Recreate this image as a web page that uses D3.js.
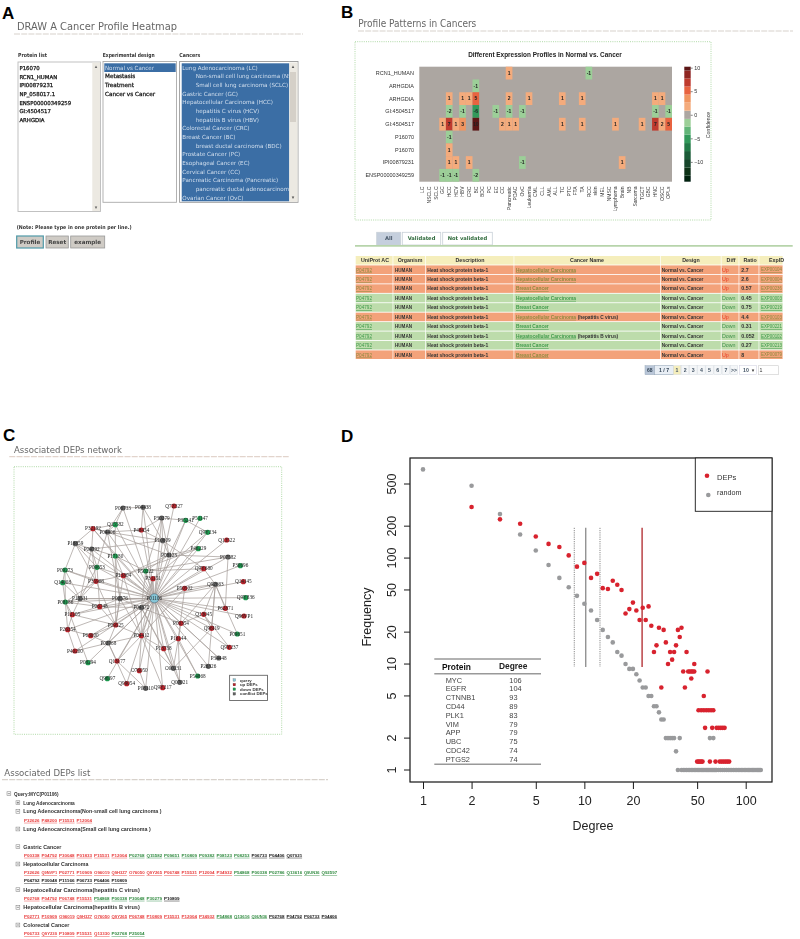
<!DOCTYPE html>
<html><head><meta charset="utf-8">
<script src="https://cdn.jsdelivr.net/npm/d3@7/dist/d3.min.js"></script>
<style>html,body{margin:0;padding:0;background:#fff}svg{display:block}</style></head>
<body><svg id="fig" width="800" height="939" viewBox="0 0 800 939"></svg>
<script>
// ---------- Panel A ----------
const proteinList=["P16070","RCN1_HUMAN","IPI00879231","NP_058017.1","ENSP00000349259","GI:4504517","ARHGDIA"];
const designs=["Normal vs Cancer","Metastasis","Treatment","Cancer vs Cancer"];
const cancerOptions=[["Lung Adenocarcinoma (LC)",0],["Non-small cell lung carcinoma (NSCLC)",1],["Small cell lung carcinoma (SCLC)",1],["Gastric Cancer (GC)",0],["Hepatocellular Carcinoma (HCC)",0],["hepatitis C virus (HCV)",1],["hepatitis B virus (HBV)",1],["Colorectal Cancer (CRC)",0],["Breast Cancer (BC)",0],["breast ductal carcinoma (BDC)",1],["Prostate Cancer (PC)",0],["Esophageal Cancer (EC)",0],["Cervical Cancer (CC)",0],["Pancreatic Carcinoma (Pancreatic)",0],["pancreatic ductal adenocarcinoma (PDAC)",1],["Ovarian Cancer (OvC)",0]];
// ---------- Panel B heatmap ----------
const heatCols=["LC","NSCLC","SCLC","GC","HCC","HCV","HBV","CRC","BC","BDC","PC","EC","CC","Pancreatic","PDAC","OvC","Leukemia","CML","CLL","AML","ALL","TC","PTC","FTA","TA","RCC","skin","MEL","NMSC","Lymphoma","Brain","NB","Sarcoma","TGCT","GBC","HNC","OSCC","OPLs"];
const heatRows=["RCN1_HUMAN","ARHGDIA","ARHGDIA ","GI:4504517","GI:4504517 ","P16070","P16070 ","IPI00879231","ENSP00000349259"];
const heatValues=[
 {Pancreatic:1,RCC:-1},
 {BC:-1},
 {HCC:1,HBV:1,CRC:1,BC:5,Pancreatic:2,Leukemia:1,TC:1,TA:1,HNC:1,OSCC:1},
 {HCC:-2,HBV:-1,BC:-6,EC:-1,Pancreatic:-1,OvC:-1,HNC:-1,OPLs:-1},
 {GC:1,HCC:7,HCV:1,HBV:3,BC:10,CC:2,Pancreatic:1,PDAC:1,TC:1,TA:1,Lymphoma:1,TGCT:1,HNC:7,OSCC:2,OPLs:5},
 {HCC:-1},
 {HCC:1},
 {HCC:1,HCV:1,CRC:1,OvC:-1,Brain:1},
 {GC:-1,HCC:-1,HCV:-1,BC:-2}];
const heatThresholds=[-12.9,-11.2,-9.4,-7.7,-6,-4.2,-2.5,-0.87,0.87,2.6,4.3,6,7.7,9.4];
const heatColors=["#06200f","#0c3019","#12452a","#1a5c37","#237a47","#30995a","#62b578","#9ccf98","#aca6a1","#f4ab7c","#f09561","#e8643f","#bf3a2e","#8f2522","#5c1616"];
const colorbarTicks=[10,5,0,-5,-10];
// ---------- Panel B table ----------
const tableHead=["UniProt AC","Organism","Description","Cancer Name","Design","Diff","Ratio","ExpID"];
const tableCancer=["Hepatocellular Carcinoma","Hepatocellular Carcinoma","Breast Cancer","Hepatocellular Carcinoma","Breast Cancer","Hepatocellular Carcinoma","Breast Cancer","Hepatocellular Carcinoma","Breast Cancer","Breast Cancer"];
const tableSuffix=["","","","","","(hepatitis C virus)","","(hepatitis B virus)","",""];
const tableDiff=["Up","Up","Up","Down","Down","Up","Down","Down","Down","Up"];
const tableRatio=["2.7","2.6","0.57","0.45","0.75","4.4","0.31","0.052","0.27","8"];
const tableExp=["EXP00104","EXP00004","EXP00236","EXP00003","EXP00219","EXP00103","EXP00221","EXP00102","EXP00213","EXP00079"];
const pagerNums=["1","2","3","4","5","6","7",">>"];
// ---------- Panel C network ----------
const nodeNames=["P01106","Q7Z327","P32192","P48454","Q13522","Q9Y680","P13804","P31151","P50502","P35908","Q14145","P62871","Q96VP1","Q13045","P00354","Q96I19","P06748","P12105","P26354","P09525","P63000","P04412","P16144","P13738","Q9Y237","P40200","Q13177","O76050","Q99054","Q9Y217","Q15582","P35241","P51147","Q9Y234","P46229","P17180","P09273","P09653","P50222","P30696","Q14008","Q9Y836","P08186","P09651","P08294","Q96I97","P54868","P06733","P04438","P30279","P04406","P18859","P04792","P10809","P08123","P07582","Q92663","P15531","P00576","P04372","P02768","P34448","P26326","O00231","Q07021","P08110"];
const nodeKinds=["q"].concat(Array(29).fill("u"),Array(17).fill("d"),Array(19).fill("c"));
const nodeLayoutX=[463,522,279,424,680,611,370,459,554,288,730,676,732,611,543,635,299,217,203,347,272,424,535,491,688,225,351,418,380,488,346,557,600,623,595,346,195,291,437,721,188,737,196,712,264,322,593,369,429,485,322,226,275,488,507,684,646,240,360,424,325,656,625,520,539,437];
const nodeLayoutY=[535,258,326,330,360,446,467,476,505,484,485,565,588,583,610,625,560,584,629,615,647,647,656,686,682,693,723,752,791,803,314,301,295,337,386,408,450,442,453,437,488,533,546,642,728,776,768,264,262,294,336,371,387,362,405,411,493,536,536,563,669,714,739,745,787,805];
const extraEdges=[[47,48],[47,30],[47,50],[48,53],[48,3],[30,2],[30,50],[30,35],[2,50],[2,52],[2,51],[2,35],[50,3],[50,53],[50,54],[50,37],[50,58],[3,53],[3,49],[49,53],[49,54],[49,31],[49,38],[31,54],[31,33],[53,54],[53,52],[53,5],[54,34],[54,55],[54,38],[54,6],[51,52],[51,36],[51,37],[51,9],[52,35],[52,37],[52,9],[52,57],[35,6],[35,38],[35,58],[35,19],[36,40],[36,42],[36,57],[36,9],[37,6],[37,57],[37,16],[9,57],[9,42],[9,6],[9,19],[40,57],[40,42],[42,57],[42,17],[42,18],[42,16],[42,44],[57,17],[57,58],[57,16],[17,16],[17,18],[17,19],[18,20],[18,25],[16,19],[16,59],[16,58],[58,19],[58,59],[58,21],[19,20],[19,60],[19,21],[20,60],[60,25],[60,26],[60,21],[21,59],[21,26],[21,27],[21,63],[21,23],[59,23],[59,14],[59,63],[14,22],[14,13],[14,56],[22,23],[22,63],[22,46],[22,64],[22,8],[23,63],[8,56],[8,21],[13,56],[13,15],[11,56],[11,55],[15,56],[15,63],[7,21],[7,59],[38,59],[38,5],[5,56],[55,38],[34,6],[33,7],[6,21],[6,19],[26,65],[27,65],[28,60],[63,64],[29,21],[14,61],[13,24],[56,43],[56,62]];
const netLegend=[["query","q"],["up DEPs","u"],["down DEPs","d"],["conflict DEPs","c"]];
// ---------- Panel C tree ----------
const treeLines=[
 ["h","Query:MYC(P01106)",0,"-"],
 ["h","Lung Adenocarcinoma",1,"+"],
 ["h","Lung Adenocarcinoma(Non-small cell lung carcinoma )",1,"-"],
 ["l",["P32626","P48200","P15531","P12004"],[],[]],
 ["h","Lung Adenocarcinoma(Small cell lung carcinoma )",1,"-"],
 ["gap"],
 ["h","Gastric Cancer",1,"-"],
 ["l",["P00338","P04792","P30048","P01833","P15531","P12004"],["P02768","Q15582","P09651","P10809","P09382","P08123","P08253"],["P06733","P04406","Q07021"]],
 ["h","Hepatocellular Carcinoma",1,"-"],
 ["l",["P32626","Q9NVP1","P02771","P10909","O96019","Q9H3Z7","O76050","Q9Y265","P06748","P15531","P12004","P34932"],["P54868","P00338","P02786","Q13616","Q9UN36","Q92597"],[]],
 ["l",[],[],["P04792","P30048","P11166","P06733","P04406","P10809"]],
 ["h","Hepatocellular Carcinoma(hepatitis C virus)",1,"-"],
 ["l",["P02768","P04792","P06748","P15531"],["P54868","P00338","P30048","P30279"],["P10809"]],
 ["h","Hepatocellular Carcinoma(hepatitis B virus)",1,"-"],
 ["l",["P02771","P10909","O96019","Q9H3Z7","O76050","Q9Y265","P06748","P10809","P15531","P12004","P34932"],["P54868","Q13616","Q9UN36"],["P02768","P04792","P06733","P04406"]],
 ["h","Colorectal Cancer",1,"-"],
 ["l",["P06733","Q9Y230","P10809","P15531","Q13330"],["P02768","P25054"],[]]];
// ---------- Panel D ----------
const randomDegree=[1,2,3,4,5,6,7,8,9,10,11,12,13,14,15,16,17,18,19,20,21,22,23,24,25,26,27,28,29,30,31,32,33,34,35,36,37,39,60,63,38,40,41,42,43,44,45,46,47,48,49,50,51,52,53,54,55,56,57,58,59,60,61,62,63,64,65,66,68,70,72,74,76,78,80,82,84,86,88,90,92,94,96,98,100,102,104,106,108,110,112,114,116,118,120,122,124];
const randomFreq=[687,481,260,167,118,86,65,53,44,37,32,26,21,18,16,13,12,10,9,9,8,7,6,6,5,5,4,4,3.5,3,3,2,2,2,2,2,1.5,2,2,2,1,1,1,1,1,1,1,1,1,1,1,1,1,1,1,1,1,1,1,1,1,1,1,1,1,1,1,1,1,1,1,1,1,1,1,1,1,1,1,1,1,1,1,1,1,1,1,1,1,1,1,1,1,1,1,1,1];
const depDegree=[2,3,4,5,6,7,8,9,10,11,12,13,14,15,16,17,18,19,20,21,22,23,24,25,26,27,28,29,30,31,32,33,34,35,36,37,38,39,40,41,42,43,44,45,46,47,48,46,48,58,55,51,53,55,57,59,61,63,56,62,66,68,70,72,74,50,51,52,53,54,60,65,69,71,73,75,77,79];
const depFreq=[303,232,211,160,136,127,106,83,90,65,71,52,51,61,56,50,30,33,38,32,26,34,26,35,23,13,15,22,6,21,16,10,13,11,13,15,21,18,22,8.5,6,13,8.5,8.5,8.5,8.5,8.5,7.3,10,8.5,5,3.66,3.66,3.66,3.66,3.66,3.66,3.66,2.5,2.5,2.5,2.5,2.5,2.5,2.5,1.2,1.2,1.2,1.2,1.2,1.2,1.2,1.2,1.2,1.2,1.2,1.2,1.2];
const medianLines=[{d:8.66,c:"#8a8a8a",dash:"1.2 1",w:1},{d:10.2,c:"#8a8a8a",dash:null,w:1.3},{d:12.5,c:"#8a8a8a",dash:"1.2 1",w:1},{d:22.8,c:"#b5343a",dash:null,w:1.4}];
const medianFreqRange=[193,9.4];
const hubProteins=["MYC","EGFR","CTNNB1","CD44","PLK1","VIM","APP","UBC","CDC42","PTGS2"];
const hubDegrees=[106,104,93,89,83,79,79,75,74,74];
const xTickVals=[1,2,5,10,20,50,100];
const yTickVals=[1,2,5,10,20,50,100,200,500];

const svg=d3.select("#fig");
const defs=svg.append("defs");
defs.append("filter").attr("id","soft").attr("x","-5%").attr("y","-5%").attr("width","110%").attr("height","110%")
  .append("feGaussianBlur").attr("stdDeviation",0.4);
defs.append("filter").attr("id","softer").attr("x","-5%").attr("y","-5%").attr("width","110%").attr("height","110%")
  .append("feGaussianBlur").attr("stdDeviation",0.22);

const UI="'DejaVu Sans',sans-serif", AR="'Liberation Sans',Arial,sans-serif", SERIF="'Liberation Serif',serif";
function T(g,x,y,s,o={}){
  const e=g.append("text").attr("x",x).attr("y",y).attr("dy","0.35em").text(s)
    .attr("font-family",o.f||UI).attr("font-size",o.size||5.5).attr("fill",o.fill||"#333");
  if(o.weight)e.attr("font-weight",o.weight);
  if(o.anchor)e.attr("text-anchor",o.anchor);
  if(o.len)e.attr("textLength",o.len).attr("lengthAdjust","spacingAndGlyphs");
  if(o.ul)e.attr("text-decoration","underline");
  if(o.hv)e.attr("stroke",o.fill||"#333").attr("stroke-width",o.hv);
  if(o.rot!==undefined)e.attr("transform",`rotate(${o.rot} ${x} ${y})`);
  return e;
}
function R(g,x0,y0,x1,y1,fill,stroke,sw){
  return g.append("rect").attr("x",x0).attr("y",y0).attr("width",x1-x0).attr("height",y1-y0)
    .attr("fill",fill||"none").attr("stroke",stroke||"none").attr("stroke-width",sw||0);
}
function rule(g,x0,x1,y,c){
  g.append("line").attr("x1",x0).attr("x2",x1).attr("y1",y).attr("y2",y).attr("stroke",c||"#d8d2cc").attr("stroke-width",1.2).attr("stroke-dasharray","6 1.2");
}
function letter(s,x,y){T(svg,x,y,s,{f:AR,size:17,weight:"bold",fill:"#000"});}

// ===== A =====
const A=svg.append("g").attr("filter","url(#soft)");
T(A,17,26,"DRAW A Cancer Profile Heatmap",{size:10.5,fill:"#666",len:160});
rule(A,14,303,34);
T(A,18,55,"Protein list",{size:5.5,weight:"bold",len:29});
T(A,102.7,55,"Experimental design",{size:5.5,weight:"bold",len:52});
T(A,179.3,55,"Cancers",{size:5.5,weight:"bold",len:21});
// protein box
R(A,18,62,100.5,211.5,"#fff","#bbb",0.9);
R(A,92.3,62.5,100,211,"#ece9e2");
T(A,96,66.5,"▴",{size:5,fill:"#666",anchor:"middle"});T(A,96,207,"▾",{size:5,fill:"#666",anchor:"middle"});
const rowY=d3.scaleLinear().domain([0,1]).range([68.2,76.87]);
proteinList.forEach((p,i)=>T(A,19.4,rowY(i),p,{size:5.4,fill:"#222",hv:0.28}));
// design box
R(A,103,61.5,176.5,202.3,"#fff","#aaa",0.9);
R(A,104.3,63.3,175.7,72,"#3a6ea5");
designs.forEach((p,i)=>T(A,105,rowY(i)-0.4,p,{size:5.7,fill:i?"#222":"#cfdcec",hv:i?0.28:null,len:i?null:49}));
// cancers box
R(A,179.6,61.5,298,202.3,"#fff","#999",0.9);
R(A,181.7,63.3,289.3,201.3,"#3a6ea5");
R(A,289.3,62.5,297.5,201.8,"#ece9e2");
R(A,290,72,296,122,"#d5d0c8");
T(A,293,66.5,"▴",{size:5,fill:"#555",anchor:"middle"});T(A,293,197,"▾",{size:5,fill:"#555",anchor:"middle"});
const clipA=defs.append("clipPath").attr("id","clipCancers");
clipA.append("rect").attr("x",181).attr("y",62).attr("width",108.3).attr("height",140);
const Ac=A.append("g").attr("clip-path","url(#clipCancers)");
cancerOptions.forEach((c,i)=>T(Ac,c[1]?195.7:182.3,rowY(i)-0.4,c[0],{size:5.6,fill:"#d3dfee"}));
T(A,16.7,227.3,"(Note: Please type in one protein per line.)",{size:5.2,weight:"bold",len:115});
[["Profile",16.7,43.3,"#4f9aa8",1.2],["Reset",46,68.3,"#999",0.8],["example",70.7,104.7,"#999",0.8]].forEach(b=>{
  R(A,b[1],236,b[2],248,"#cfcbc5",b[3],b[4]);
  T(A,(b[1]+b[2])/2,242,b[0],{size:5.6,weight:"bold",anchor:"middle",fill:"#444"});
});
letter("A",2,13);

// ===== B =====
const B=svg.append("g").attr("filter","url(#soft)");
T(B,358.3,23.7,"Profile Patterns in Cancers",{size:10,fill:"#666",len:118});
rule(B,358,793,31);
R(B,355,41.7,711,220,"none","#9ccf90",0.8).attr("stroke-dasharray","1 1.2");
T(B,545,55,"Different Expression Profiles in Normal vs. Cancer",{f:AR,size:6.4,weight:"bold",anchor:"middle",fill:"#222",len:153.7});
const hx=d3.scaleBand().domain(heatCols).range([419.3,672]);
const hy=d3.scaleBand().domain(heatRows).range([66.7,181.7]);
const hc=d3.scaleThreshold().domain(heatThresholds).range(heatColors);
R(B,419.3,66.7,672,181.7,hc(0));
const cells=[];heatValues.forEach((r,i)=>Object.entries(r).forEach(([k,v])=>cells.push({row:heatRows[i],col:k,v})));
const cg=B.selectAll("g.cell").data(cells).join("g").attr("class","cell");
cg.append("rect").attr("x",d=>hx(d.col)).attr("y",d=>hy(d.row)).attr("width",hx.bandwidth()).attr("height",hy.bandwidth()).attr("fill",d=>hc(d.v));
cg.append("text").attr("x",d=>hx(d.col)+hx.bandwidth()/2).attr("y",d=>hy(d.row)+hy.bandwidth()/2).attr("dy","0.35em")
  .attr("text-anchor","middle").attr("font-family",AR).attr("font-size",5).attr("font-weight","bold").attr("fill","#222").text(d=>d.v);
heatRows.forEach(r=>T(B,414,hy(r)+hy.bandwidth()/2,r.trim(),{f:AR,size:5.5,anchor:"end",fill:"#333"}));
heatCols.forEach(c=>T(B,hx(c)+hx.bandwidth()/2,186.5,c,{f:AR,size:5,anchor:"end",rot:-90,fill:"#333"}));
// colour bar
const cby=d3.scaleLinear().domain([-14.2,10.2]).range([181.7,66.7]);
const cbEdges=[-14.2].concat(heatThresholds,[10.2]);
heatColors.forEach((c,i)=>R(B,684.3,cby(cbEdges[i+1]),690.7,cby(cbEdges[i]),c));
const cbAxis=d3.axisRight(cby).tickValues(colorbarTicks).tickSize(2).tickSizeOuter(0);
const cbG=B.append("g").attr("transform","translate(690.7,0)").call(cbAxis);
cbG.select(".domain").remove();
cbG.selectAll("line").attr("stroke","#333").attr("stroke-width",0.6);
cbG.selectAll("text").attr("font-family",AR).attr("font-size",5.4).attr("fill","#333").attr("x",3.5);
T(B,708,125,"Confidence",{f:AR,size:5.2,anchor:"middle",rot:-90,fill:"#333"});

// tabs
[["All",376.7,400.7,"#c5cfdd","#456"],["Validated",402.3,440.7,"#fff","#2f6b3c"],["Not validated",442.7,492.3,"#fff","#2f6b3c"]].forEach(t=>{
  R(B,t[1],232.3,t[2],245,t[3],"#c8d0d8",0.8);
  T(B,(t[1]+t[2])/2,238.5,t[0],{size:5.2,weight:"bold",anchor:"middle",fill:t[4]});
});
B.append("line").attr("x1",355).attr("x2",792.7).attr("y1",245.8).attr("y2",245.8).attr("stroke","#b7d4ab").attr("stroke-width",1.8);
// table
const colEdges=[355.7,393.3,426,514.3,660.7,721.5,739.3,759.3,783.3];
const headerCx=[375,410,470,587,691,731,750,776.5];
const tableRows=d3.range(tableCancer.length);
const ty=d3.scaleBand().domain(tableRows).range([265.4,359]).paddingInner(0.09).paddingOuter(0);
for(let c=0;c<8;c++){
  R(B,colEdges[c],256,colEdges[c+1]-0.7,264.6,"#f5eebc");
  T(B,headerCx[c],260.3,tableHead[c],{f:AR,size:5.3,weight:"bold",anchor:"middle",fill:"#333"});
  tableRows.forEach(r=>R(B,colEdges[c],ty(r),colEdges[c+1]-0.7,ty(r)+ty.bandwidth(),tableDiff[r]=="Up"?"#f3a27a":"#bddcab"));
}
tableRows.forEach(r=>{
  const up=tableDiff[r]=="Up", y=ty(r)+ty.bandwidth()/2, lk=up?"#8f8a3f":"#3f9a4a";
  T(B,356,y,"P04792",{f:AR,size:5.3,fill:lk,ul:1,len:16});
  T(B,395,y,"HUMAN",{f:AR,size:5.3,weight:"bold",len:17});
  T(B,427.3,y,"Heat shock protein beta-1",{f:AR,size:5.3,weight:"bold",len:61});
  const hcc=tableCancer[r][0]=="H";
  T(B,516,y,tableCancer[r],{f:AR,size:5.3,fill:lk,ul:1,weight:"bold",len:hcc?60:32.7});
  if(tableSuffix[r])T(B,577.7,y,tableSuffix[r],{f:AR,size:5.3,weight:"bold",len:40.5});
  T(B,661.7,y,"Normal vs. Cancer",{f:AR,size:5.3,weight:"bold",len:41.7});
  T(B,722,y,tableDiff[r],{f:AR,size:5.3,fill:up?"#e8402a":"#3f8f4a"});
  T(B,741.3,y,tableRatio[r],{f:AR,size:5.3,weight:"bold"});
  T(B,761,y,tableExp[r],{f:AR,size:5.1,fill:lk,ul:1,len:21});
});
// pager
R(B,645,365.7,654.5,374.7,"#b9c6d8","#9ab",0.5);T(B,649.7,370,"68",{f:AR,size:5,anchor:"middle",weight:"bold",fill:"#345"});
R(B,654.5,365.7,673.3,374.7,"#e8eef5","#9ab",0.6);T(B,664,370,"1 / 7",{f:AR,size:5.2,anchor:"middle",weight:"bold",fill:"#345"});
const pg=d3.scaleBand().domain(pagerNums).range([673.3,737.7]).paddingInner(0.08);
pagerNums.forEach((n,i)=>{
  R(B,pg(n),365.7,pg(n)+pg.bandwidth(),374.7,i?"#f4f6f8":"#f5eebc","#d5dbe2",0.5);
  T(B,pg(n)+pg.bandwidth()/2,370,n,{f:AR,size:5.2,anchor:"middle",weight:"bold",fill:"#456"});
});
R(B,739.3,365.7,756.7,374.7,"#fff","#ccd",0.5);T(B,743,370,"10",{f:AR,size:5.2,weight:"bold",fill:"#456"});T(B,753,370,"▾",{size:5,anchor:"middle",fill:"#333"});
R(B,758.3,365.7,778.3,374.7,"#fff","#ccc",0.6);T(B,759.5,370,"1",{f:AR,size:5.2,fill:"#333"});
letter("B",341,12);

// ===== C =====
const C=svg.append("g").attr("filter","url(#soft)");
T(C,14,449.3,"Associated DEPs network",{size:9.4,fill:"#666",len:108});
rule(C,9.3,288.7,456.7,"#e2d4cc");
R(C,14,466.7,281.7,734.3,"none","#9ccf90",0.8).attr("stroke-dasharray","1 1.2");
const nx=d3.scaleLinear().domain([0,990]).range([0,330]);
const ny=d3.scaleLinear().domain([0,960]).range([420,740]);
const kind={q:"#86c5d6",u:"#b8242c",d:"#1f9a50",c:"#616161"};
const edges=nodeNames.slice(1).map((n,i)=>[0,i+1]).concat(extraEdges);
C.append("g").selectAll("line").data(edges).join("line")
 .attr("x1",d=>nx(nodeLayoutX[d[0]])).attr("y1",d=>ny(nodeLayoutY[d[0]]))
 .attr("x2",d=>nx(nodeLayoutX[d[1]])).attr("y2",d=>ny(nodeLayoutY[d[1]]))
 .attr("stroke","#a8a09c").attr("stroke-width",0.75);
const ng=C.append("g").selectAll("g").data(nodeNames).join("g");
ng.append("circle").attr("cx",(d,i)=>nx(nodeLayoutX[i])).attr("cy",(d,i)=>ny(nodeLayoutY[i]))
 .attr("r",(d,i)=>i?2.6:4.6).attr("fill",(d,i)=>kind[nodeKinds[i]]).attr("stroke",(d,i)=>i?"none":"#456").attr("stroke-width",0.5);
ng.append("text").attr("x",(d,i)=>nx(nodeLayoutX[i])).attr("y",(d,i)=>ny(nodeLayoutY[i])).attr("dy","0.35em")
 .attr("text-anchor","middle").attr("font-family",SERIF).attr("font-size",5.2).attr("fill","#222").text(d=>d);
R(C,229.6,675.3,267.5,700.5,"#fff","#666",0.9);
netLegend.forEach((l,i)=>{
  const y=680+i*4.6;
  R(C,233,y-1.3,235.6,y+1.3,kind[l[1]],"#333",0.2);
  T(C,240,y,l[0],{f:AR,size:4.3,weight:"bold",fill:"#333"});
});

T(C,4.3,772.3,"Associated DEPs list",{size:9.4,fill:"#666",len:86});
rule(C,2,328,779.7);
const treeY=[793.7,802.7,811.3,820.3,829,0,846.7,855.3,864,872.7,880.9,889.7,898.3,907.3,916,925,933.7];
const linkX=d3.scaleLinear().domain([0,1]).range([24,41.5]);
treeLines.forEach((l,i)=>{
  if(l[0]=="gap")return;
  const y=treeY[i];
  if(l[0]=="h"){
    const ix=l[2]?16:7;
    R(C,ix,y-1.9,ix+3.8,y+1.9,"#fff","#777",0.5);
    C.append("line").attr("x1",ix+0.8).attr("x2",ix+3).attr("y1",y).attr("y2",y).attr("stroke","#333").attr("stroke-width",0.5);
    if(l[3]=="+")C.append("line").attr("x1",ix+1.9).attr("x2",ix+1.9).attr("y1",y-1.1).attr("y2",y+1.1).attr("stroke","#333").attr("stroke-width",0.5);
    T(C,l[2]?23.3:14,y,l[1],{f:AR,size:5.4,weight:"bold",fill:"#333",len:l[1].length*(l[2]?2.71:2.62)});
  } else {
    let k=0;
    [[l[1],"#e83a3a"],[l[2],"#2f8a3f"],[l[3],"#111"]].forEach(([arr,col])=>arr.forEach(p=>{
      T(C,linkX(k++),y,p,{f:AR,size:4.3,fill:col,ul:1,len:15.6,weight:"bold"});
    }));
  }
});
letter("C",3,435);

// ===== D =====
const D=svg.append("g").attr("filter","url(#softer)");
const x=d3.scaleLog().domain([1,100]).range([423,745.7]);
const y=d3.scaleLog().domain([1,500]).range([770,484]);
const box={l:410,r:772,t:458,b:782};
R(D,box.l,box.t,box.r,box.b,"none","#1a1a1a",1.2);
const xa=D.append("g").attr("transform",`translate(0,${box.b})`).call(d3.axisBottom(x).tickValues(xTickVals).tickFormat(d3.format("d")).tickSize(7).tickSizeOuter(0));
xa.select(".domain").remove();
xa.selectAll("line").attr("stroke","#1a1a1a").attr("stroke-width",1);
xa.selectAll("text").attr("font-family",AR).attr("font-size",12.5).attr("fill","#222").attr("y",14);
const ya=D.append("g").attr("transform",`translate(${box.l},0)`).call(d3.axisLeft(y).tickValues(yTickVals).tickFormat(d3.format("d")).tickSize(6).tickSizeOuter(0));
ya.select(".domain").remove();
ya.selectAll("line").attr("stroke","#1a1a1a").attr("stroke-width",1);
ya.selectAll("text").attr("font-family",AR).attr("font-size",12.5).attr("fill","#222")
  .attr("text-anchor","middle").attr("dy",0).attr("x",0).attr("y",0)
  .attr("transform",d=>`translate(-14.5,${y(d)}) rotate(-90)`);
ya.selectAll(".tick").attr("transform","translate(0,0)");
ya.selectAll(".tick line").attr("y1",d=>y(d)).attr("y2",d=>y(d));
T(D,593,826,"Degree",{f:AR,size:12.5,anchor:"middle",fill:"#222"});
T(D,367,617,"Frequency",{f:AR,size:12.5,anchor:"middle",rot:-90,fill:"#222"});
// medians
D.append("g").selectAll("line").data(medianLines).join("line")
 .attr("x1",d=>x(d.d)).attr("x2",d=>x(d.d)).attr("y1",y(medianFreqRange[0])).attr("y2",y(medianFreqRange[1]))
 .attr("stroke",d=>d.c).attr("stroke-width",d=>d.w).attr("stroke-dasharray",d=>d.dash);
D.append("g").selectAll("circle").data(randomDegree).join("circle")
 .attr("cx",d=>x(d)).attr("cy",(d,i)=>y(randomFreq[i])).attr("r",2.3).attr("fill","#999a9c");
D.append("g").selectAll("circle").data(depDegree).join("circle")
 .attr("cx",d=>x(d)).attr("cy",(d,i)=>y(depFreq[i])).attr("r",2.3).attr("fill","#d8232e");
// legend
R(D,695.3,458,772,511.3,"#fff","#1a1a1a",0.9);
D.append("circle").attr("cx",707).attr("cy",475.7).attr("r",2.3).attr("fill","#d8232e");
D.append("circle").attr("cx",708.3).attr("cy",495).attr("r",2.3).attr("fill","#999a9c");
T(D,717,477,"DEPs",{f:AR,size:7.6,fill:"#333"});
T(D,717,492.3,"random",{f:AR,size:7.2,fill:"#333"});
// hub table
[659,673.7,764.3].forEach(v=>D.append("line").attr("x1",434.3).attr("x2",541).attr("y1",v).attr("y2",v).attr("stroke","#999").attr("stroke-width",1.4));
T(D,442,667,"Protein",{f:AR,size:8.4,weight:"bold",fill:"#111"});
T(D,499,666,"Degree",{f:AR,size:8.4,weight:"bold",fill:"#222"});
const hubY=d3.scaleBand().domain(hubProteins).range([675.6,763.6]);
hubProteins.forEach((p,i)=>{
  T(D,445.7,hubY(p)+hubY.bandwidth()/2,p,{f:AR,size:7.4,fill:"#444"});
  T(D,509.3,hubY(p)+hubY.bandwidth()/2,hubDegrees[i],{f:AR,size:7.4,fill:"#444"});
});
letter("D",341,436);
</script></body></html>
